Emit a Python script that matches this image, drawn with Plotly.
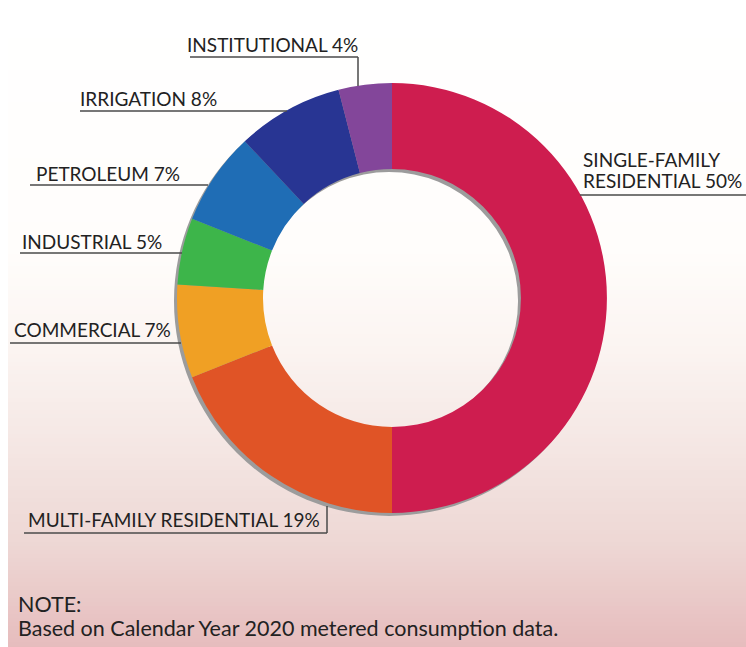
import plotly.graph_objects as go

W, H = 746, 647

categories = ["SINGLE-FAMILY RESIDENTIAL", "MULTI-FAMILY RESIDENTIAL", "COMMERCIAL",
              "INDUSTRIAL", "PETROLEUM", "IRRIGATION", "INSTITUTIONAL"]
values = [50, 19, 7, 5, 7, 8, 4]
colors = ["#CE1D4F", "#E05426", "#F0A024", "#3DB54A", "#1F6DB5", "#283593", "#83469A"]

note_title = "NOTE:"
note_text = "Based on Calendar Year 2020 metered consumption data."

def px(x):
    return x / W

def py(y):
    return 1 - y / H

cx, cy, r = 392, 298, 215
hole = 0.6

fig = go.Figure()

# shadow ring
sdx, sdy = -3, 3
fig.add_trace(go.Pie(values=[1], marker=dict(colors=["#9C9C9C"], line=dict(width=0)),
                     hole=hole, textinfo="none", hoverinfo="skip", sort=False,
                     showlegend=False,
                     domain=dict(x=[px(cx - r + sdx), px(cx + r + sdx)],
                                 y=[py(cy + r + sdy), py(cy - r + sdy)])))

fig.add_trace(go.Pie(labels=categories, values=values, sort=False, direction="clockwise",
                     rotation=0, hole=hole, textinfo="none", hoverinfo="label+percent",
                     marker=dict(colors=colors, line=dict(width=0)), showlegend=False,
                     domain=dict(x=[px(cx - r), px(cx + r)], y=[py(cy + r), py(cy - r)])))

# background gradient
stops = [(10, (255, 255, 255)), (250, (255, 253, 251)), (350, (251, 244, 241)),
         (450, (244, 230, 227)), (550, (237, 214, 211)), (647, (230, 188, 189))]

def col_at(y):
    for (y0, c0), (y1, c1) in zip(stops[:-1], stops[1:]):
        if y0 <= y <= y1:
            t = (y - y0) / (y1 - y0)
            return "rgb(%d,%d,%d)" % tuple(round(a + (b - a) * t) for a, b in zip(c0, c1))
    return "rgb(%d,%d,%d)" % stops[-1][1]

shapes = []
step = 4
for y in range(10, H, step):
    shapes.append(dict(type="rect", xref="paper", yref="paper", x0=px(8), x1=1,
                       y0=py(min(y + step + 1, H)), y1=py(y), fillcolor=col_at(y + step / 2),
                       line=dict(width=0), layer="below"))

line_col = "#4a4a4a"
def seg(x0, y0, x1, y1):
    shapes.append(dict(type="line", xref="paper", yref="paper", x0=px(x0), y0=py(y0),
                       x1=px(x1), y1=py(y1), line=dict(color=line_col, width=1.5)))

# leader lines
seg(190, 57, 358, 57); seg(358, 57, 358, 86)
seg(80, 111, 287, 111)
seg(30, 185, 208, 185)
seg(20, 253, 182, 253)
seg(10, 343, 181, 343)
seg(24, 533, 327, 533); seg(327, 533, 327, 506)
seg(580, 195, 746, 195)

fig.update_layout(shapes=shapes)

font_lab = dict(family="Lato", size=19, color="#222222")
font_note = dict(family="Lato", size=21.5, color="#222222")

labels_pos = [
    ("INSTITUTIONAL 4%", 187, 45),
    ("IRRIGATION 8%", 80, 99),
    ("PETROLEUM 7%", 36, 173),
    ("INDUSTRIAL 5%", 22, 241),
    ("COMMERCIAL 7%", 14, 330),
    ("MULTI-FAMILY RESIDENTIAL 19%", 28, 519),
    ("SINGLE-FAMILY", 583, 159),
    ("RESIDENTIAL 50%", 583, 181),
]
ann = []
for t, x, y in labels_pos:
    ann.append(dict(text=t, x=px(x), y=py(y), xref="paper", yref="paper",
                    xanchor="left", yanchor="middle", showarrow=False, font=font_lab,
                    xshift=-2))
ann.append(dict(text=note_title, x=px(18), y=py(604), xref="paper", yref="paper",
                xanchor="left", yanchor="middle", showarrow=False, font=font_note, xshift=-2))
ann.append(dict(text=note_text, x=px(18), y=py(628), xref="paper", yref="paper",
                xanchor="left", yanchor="middle", showarrow=False, font=font_note, xshift=-2))

fig.update_layout(annotations=ann, width=W, height=H, margin=dict(l=0, r=0, t=0, b=0),
                  paper_bgcolor="white", plot_bgcolor="white")

fig.write_html("out.html")
